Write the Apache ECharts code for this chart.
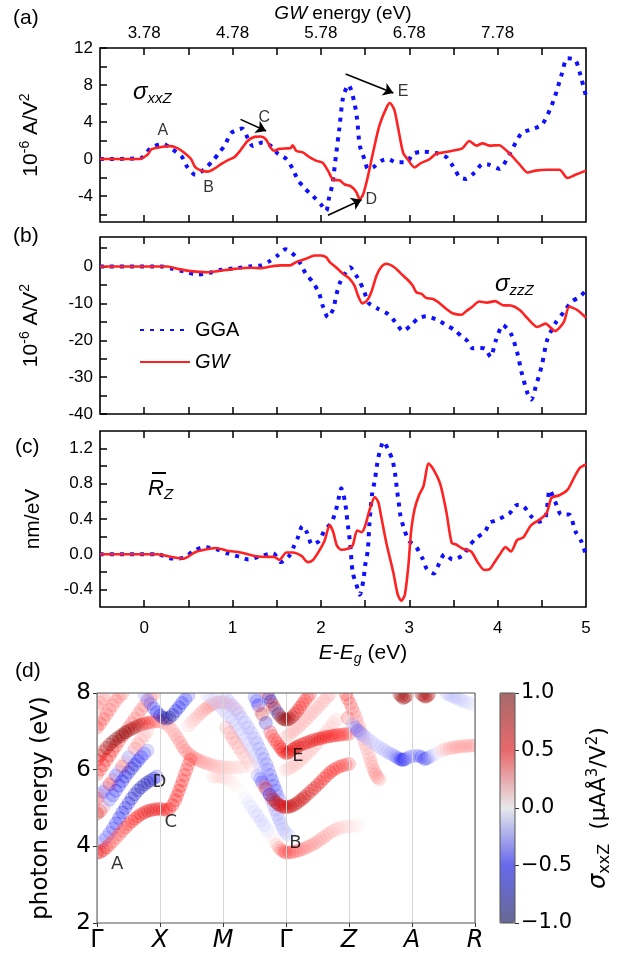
<!DOCTYPE html>
<html>
<head>
<meta charset="utf-8">
<script src="https://cdn.jsdelivr.net/npm/echarts@6/dist/echarts.min.js"></script>
<style>
html,body{margin:0;padding:0;background:#fff;}
#chart{width:636px;height:954px;}
</style>
</head>
<body>
<div id="chart"></div>
<script>
// ---------- shared energy axis, E - Eg (eV) ----------
const energyMin = -0.5, energyMax = 5;
const energyLabelTicks = [0, 1, 2, 3, 4, 5];
const energyMinorTicks = [0, 0.5, 1, 1.5, 2, 2.5, 3, 3.5, 4, 4.5];
const gwEnergyTickPos = [0, 1, 2, 3, 4];
const gwEnergyTickLabels = ['3.78', '4.78', '5.78', '6.78', '7.78'];

// ---------- (a) sigma_xxZ (1e-6 A/V^2) ----------
const sigmaXXZRange = [-6.8, 12];
const sigmaXXZLabels = [-4, 0, 4, 8, 12];
const sigmaXXZTicks = [-6, -4, -2, 0, 2, 4, 6, 8, 10, 12];
const ggaXXZ = [[-0.5,0],[-0.04,0.1],[0.075,1.2],[0.21,1.65],[0.32,1.05],[0.43,0.2],[0.49,-0.9],[0.58,-1.7],[0.68,-1.1],[0.77,-0.25],[0.85,0.7],[0.92,1.6],[0.98,2.8],[1.11,3.3],[1.17,2.3],[1.23,1.4],[1.34,1.8],[1.43,1.45],[1.51,0.6],[1.61,0],[1.68,-1.05],[1.74,-2.25],[1.82,-3.2],[1.91,-4.0],[2.0,-4.9],[2.06,-5.6],[2.09,-4.3],[2.13,-2.7],[2.17,0.35],[2.21,3.4],[2.25,6.6],[2.31,8.0],[2.34,7.5],[2.38,6.05],[2.41,4.3],[2.44,1.45],[2.5,-0.2],[2.53,-1.05],[2.59,-0.9],[2.68,-0.2],[2.76,0],[2.85,-0.35],[2.97,-0.35],[3.04,0.55],[3.15,0.8],[3.3,0.65],[3.42,0.2],[3.49,-0.7],[3.57,-1.95],[3.64,-2.15],[3.74,-1.45],[3.83,-0.55],[3.9,-0.6],[4.02,-1.05],[4.13,0.45],[4.27,2.8],[4.38,3.2],[4.5,3.7],[4.59,5.3],[4.65,6.8],[4.72,9.0],[4.79,10.9],[4.88,10.7],[4.95,8.6],[5.0,6.8]];
const gwXXZ = [[-0.5,0],[-0.2,0],[-0.06,0],[0.04,0.5],[0.08,1.05],[0.19,1.3],[0.3,1.4],[0.38,1.15],[0.45,0.7],[0.53,0],[0.58,-0.9],[0.66,-1.3],[0.72,-1.36],[0.79,-1.07],[0.87,-0.55],[0.96,-0.07],[1.02,0.2],[1.09,0.95],[1.17,1.95],[1.25,2.4],[1.32,2.43],[1.38,2.1],[1.43,1.25],[1.47,0.9],[1.53,1.1],[1.62,1.15],[1.66,1.2],[1.68,1.5],[1.72,0.9],[1.8,0.7],[1.87,0.2],[1.95,-0.2],[2.02,-0.4],[2.08,-1.25],[2.14,-2.25],[2.21,-2.3],[2.27,-2.75],[2.34,-2.95],[2.4,-3.55],[2.44,-4.35],[2.48,-3.75],[2.53,-1.95],[2.59,0.7],[2.66,3.55],[2.74,5.5],[2.78,6.05],[2.83,5.35],[2.87,3.55],[2.93,0.7],[2.98,0],[3.06,-0.9],[3.13,-0.45],[3.23,0],[3.3,0.55],[3.38,0.7],[3.49,0.9],[3.6,1.15],[3.68,1.95],[3.76,1.45],[3.83,1.7],[3.91,1.45],[4.02,1.5],[4.09,1.0],[4.15,0.45],[4.25,-0.6],[4.34,-1.45],[4.43,-1.25],[4.56,-1.15],[4.7,-1.15],[4.79,-2.05],[4.88,-1.7],[5.0,-1.25]];
const peakNames = ['A', 'B', 'C', 'D', 'E'];
const peakLabelAt = [[0.21,3.07],[0.73,-3.1],[1.36,4.47],[2.57,-4.4],[2.93,7.33]];
const peakArrows = [
  [[1.09,4.29],[1.38,3.04]],
  [[2.08,-6.07],[2.46,-4.39]],
  [[2.28,9.19],[2.82,7.15]]
];

// ---------- (b) sigma_zzZ (1e-6 A/V^2) ----------
const sigmaZZZRange = [-40, 8];
const sigmaZZZLabels = [-40, -30, -20, -10, 0];
const sigmaZZZTicks = [-40, -35, -30, -25, -20, -15, -10, -5, 0, 5];
const ggaZZZ = [[-0.5,0],[0.19,0],[0.32,-0.65],[0.45,-1.35],[0.6,-2.2],[0.74,-1.7],[0.87,-0.9],[1.04,-0.45],[1.19,0],[1.32,0.3],[1.42,1.45],[1.51,3.0],[1.6,4.7],[1.71,2.8],[1.78,0.3],[1.83,-2.0],[1.91,-4.3],[1.98,-7.3],[2.02,-10.6],[2.08,-13.8],[2.14,-11.5],[2.17,-8.2],[2.21,-4.7],[2.27,-2.0],[2.33,-0.2],[2.4,-2.45],[2.44,-4.1],[2.49,-6.8],[2.54,-9.9],[2.64,-11.4],[2.76,-12.9],[2.84,-15],[2.93,-17.5],[3.02,-15.9],[3.1,-14.1],[3.19,-13.5],[3.3,-14.3],[3.4,-15.6],[3.51,-17.2],[3.61,-19.3],[3.65,-20],[3.72,-22.2],[3.8,-22.1],[3.86,-22.3],[3.92,-24.5],[3.98,-20],[4.06,-15.9],[4.15,-18.2],[4.22,-23.2],[4.27,-28.6],[4.34,-34.5],[4.38,-36.1],[4.43,-32.7],[4.5,-26.8],[4.56,-20],[4.65,-15.5],[4.75,-12.3],[4.84,-9.5],[4.93,-8.2],[5.0,-6.4]];
const gwZZZ = [[-0.5,0],[0.26,0],[0.38,-0.65],[0.53,-1.25],[0.72,-1.55],[0.83,-1.25],[1.02,-0.65],[1.21,-0.35],[1.32,-0.45],[1.43,0],[1.55,0.3],[1.65,0.3],[1.72,1.2],[1.83,2.1],[1.93,3.0],[2.0,3.0],[2.06,2.5],[2.1,1.2],[2.17,-0.2],[2.25,-2.0],[2.32,-3.2],[2.38,-5.2],[2.42,-7.9],[2.47,-10.0],[2.52,-9.3],[2.57,-7.0],[2.63,-2.45],[2.68,-0.2],[2.74,0.75],[2.83,-0.2],[2.91,-2.0],[2.99,-3.8],[3.04,-5.2],[3.08,-7.0],[3.14,-7.45],[3.19,-8.5],[3.27,-8.8],[3.34,-9.9],[3.42,-11.5],[3.49,-12.7],[3.59,-13.1],[3.64,-12.2],[3.72,-10.8],[3.79,-9.5],[3.88,-9.8],[3.97,-9.4],[4.06,-10.5],[4.15,-10.6],[4.25,-11.8],[4.34,-14.1],[4.45,-16.4],[4.54,-15.5],[4.65,-17.5],[4.75,-15],[4.81,-10.9],[4.9,-11.8],[5.0,-13.9]];

// ---------- (c) R_Z (nm/eV) ----------
const shiftRange = [-0.6, 1.4];
const shiftLabels = [-0.4, 0, 0.4, 0.8, 1.2];
const shiftTicks = [-0.4, -0.2, 0, 0.2, 0.4, 0.6, 0.8, 1.0, 1.2];
const ggaRZ = [[-0.5,0],[0.15,0],[0.32,-0.05],[0.45,-0.04],[0.55,0.03],[0.67,0.08],[0.81,0.06],[0.94,0.01],[1.08,-0.03],[1.18,-0.06],[1.32,-0.02],[1.46,0.01],[1.55,-0.09],[1.64,-0.02],[1.69,0.08],[1.74,0.19],[1.79,0.32],[1.84,0.25],[1.9,0.11],[1.98,0.15],[2.04,0.27],[2.12,0.36],[2.17,0.5],[2.2,0.63],[2.23,0.75],[2.27,0.61],[2.29,0.46],[2.31,0.29],[2.33,0.13],[2.36,-0.21],[2.4,-0.34],[2.44,-0.46],[2.48,-0.3],[2.5,-0.13],[2.53,0.04],[2.55,0.36],[2.58,0.69],[2.61,0.84],[2.65,1.1],[2.71,1.28],[2.76,1.19],[2.81,1.07],[2.84,0.91],[2.86,0.74],[2.88,0.59],[2.9,0.44],[2.95,0.26],[3.0,0.15],[3.08,0.08],[3.15,-0.05],[3.2,-0.17],[3.28,-0.22],[3.34,-0.1],[3.4,0],[3.49,-0.06],[3.61,-0.01],[3.68,0.1],[3.77,0.19],[3.86,0.26],[3.91,0.36],[3.97,0.38],[4.13,0.46],[4.22,0.56],[4.29,0.55],[4.38,0.43],[4.47,0.37],[4.54,0.41],[4.59,0.73],[4.65,0.6],[4.72,0.45],[4.81,0.45],[4.88,0.26],[4.95,0.14],[5.0,-0.01]];
const gwRZ = [[-0.5,0],[0.15,0],[0.3,-0.03],[0.45,-0.05],[0.57,0.02],[0.68,0.05],[0.81,0.07],[0.94,0.04],[1.09,0.02],[1.25,-0.02],[1.4,-0.03],[1.47,-0.03],[1.53,-0.065],[1.61,0.02],[1.68,0.02],[1.78,-0.02],[1.85,-0.09],[1.91,-0.065],[1.97,0.02],[2.04,0.15],[2.1,0.33],[2.14,0.25],[2.18,0.1],[2.23,0.05],[2.31,0.065],[2.36,0.1],[2.41,0.27],[2.46,0.25],[2.5,0.32],[2.55,0.5],[2.61,0.65],[2.65,0.59],[2.68,0.44],[2.74,0.13],[2.82,-0.21],[2.87,-0.46],[2.91,-0.53],[2.95,-0.46],[2.99,-0.13],[3.02,0.25],[3.06,0.51],[3.11,0.67],[3.16,0.77],[3.22,1.03],[3.27,0.97],[3.35,0.8],[3.42,0.48],[3.48,0.13],[3.53,0.11],[3.61,0.06],[3.7,0.03],[3.78,-0.1],[3.85,-0.18],[3.91,-0.17],[3.96,-0.1],[4.02,-0.01],[4.09,0.08],[4.15,0.03],[4.22,0.16],[4.29,0.19],[4.38,0.33],[4.5,0.41],[4.56,0.48],[4.61,0.64],[4.7,0.67],[4.79,0.73],[4.86,0.86],[4.93,0.98],[5.0,1.02]];

// ---------- (d) band-resolved sigma_xxZ: [k, photon energy (eV), weight] ----------
const kPathLabels = ['Γ', 'X', 'M', 'Γ', 'Z', 'A', 'R'];
const bandA = [[0,3.83,.6],[.05,3.85,.6],[.1,3.9,.55],[.15,3.97,.5],[.2,4.05,.4],[.25,4.13,.35],[.3,4.22,.35],[.35,4.31,.38],[.4,4.4,.4],[.45,4.49,.42],[.5,4.57,.45],[.55,4.65,.48],[.6,4.72,.5],[.65,4.78,.52],[.7,4.84,.55],[.75,4.88,.58],[.8,4.92,.6],[.85,4.94,.6],[.9,4.96,.6],[.95,4.97,.58],[1.0,4.98,.55],[1.05,4.96,.55],[1.1,4.95,.55],[1.15,4.98,.52],[1.2,5.08,.5],[1.24,5.2,.5],[1.27,5.32,.5],[1.3,5.45,.5],[1.33,5.58,.5],[1.36,5.72,.48],[1.39,5.86,.45],[1.42,6.0,.45],[1.45,6.14,.42],[1.48,6.26,.4]];
const bandD = [[0,4.05,-.1],[.05,4.08,-.18],[.1,4.15,-.25],[.15,4.24,-.3],[.2,4.35,-.35],[.25,4.47,-.4],[.3,4.6,-.45],[.35,4.74,-.5],[.4,4.88,-.55],[.45,5.0,-.58],[.5,5.13,-.6],[.55,5.25,-.62],[.6,5.36,-.65],[.65,5.46,-.68],[.7,5.54,-.7],[.75,5.61,-.72],[.8,5.67,-.75],[.85,5.72,-.7],[.9,5.77,-.6],[.95,5.82,-.4]];
const bandGX3 = [[0,4.85,.75],[.05,4.92,.6],[.1,5.02,.3],[.15,5.12,-.1],[.2,5.22,-.3],[.25,5.33,-.4],[.3,5.45,-.45],[.35,5.58,-.5],[.4,5.7,-.55],[.45,5.82,-.58],[.5,5.93,-.6],[.55,6.03,-.6],[.6,6.13,-.6],[.65,6.23,-.55],[.7,6.33,-.5],[.75,6.42,-.4],[.8,6.5,-.3]];
const bandGX4 = [[0,5.25,.5],[.05,5.33,.3],[.1,5.42,-.4],[.15,5.52,-.2],[.2,5.62,.5],[.25,5.73,.3],[.3,5.85,-.4],[.35,5.96,-.2],[.4,6.08,.4],[.45,6.2,.2],[.5,6.32,-.3],[.55,6.44,-.1],[.6,6.55,.3],[.65,6.67,.25],[.7,6.78,.2],[.75,6.89,.18],[.8,7.0,.15]];
const bandGX5 = [[0,6.25,.5],[.05,6.37,.65],[.1,6.48,.75],[.15,6.57,.85],[.2,6.66,.9],[.25,6.73,.95],[.3,6.8,1.0],[.35,6.86,1.0],[.4,6.92,1.0],[.45,6.97,.98],[.5,7.02,.95],[.55,7.06,.9],[.6,7.1,.85],[.65,7.14,.8],[.7,7.17,.75],[.75,7.2,.65],[.8,7.22,.55],[.85,7.24,.45],[.9,7.25,.35],[.95,7.26,.3],[1.0,7.26,.25],[1.05,7.24,.22],[1.1,7.2,.2],[1.15,7.12,.2],[1.2,7.02,.2],[1.24,6.92,.22],[1.28,6.82,.25],[1.32,6.71,.28],[1.36,6.6,.3],[1.4,6.5,.3],[1.45,6.42,.3],[1.5,6.35,.3],[1.55,6.3,.3],[1.6,6.26,.28],[1.65,6.22,.25],[1.7,6.19,.22],[1.75,6.16,.2],[1.8,6.13,.19],[1.85,6.11,.18],[1.9,6.09,.16],[1.95,6.08,.15],[2.0,6.07,.13],[2.05,6.06,.12],[2.1,6.06,.11],[2.15,6.06,.1],[2.2,6.06,.09],[2.25,6.06,.08],[2.3,6.07,.07],[2.35,6.08,.06]];
const bandGX6 = [[0,5.88,.4],[.05,6.0,.45],[.1,6.12,.5],[.15,6.25,.5],[.2,6.37,.5],[.25,6.5,.48],[.3,6.62,.45],[.35,6.75,.42],[.4,6.87,.4],[.45,6.98,.38],[.5,7.1,.35],[.55,7.22,.32],[.6,7.33,.3],[.65,7.45,.3],[.7,7.56,.3],[.75,7.67,.28],[.8,7.78,.25],[.85,7.88,.25],[.9,7.97,.25]];
const bandGX7 = [[0,7.1,.45],[.05,7.2,.42],[.1,7.32,.4],[.15,7.44,.38],[.2,7.56,.35],[.25,7.68,.32],[.3,7.8,.3],[.35,7.9,.3],[.4,7.98,.3]];
const bandGX8 = [[0,7.65,.3],[.05,7.75,.28],[.1,7.85,.25],[.15,7.95,.2]];
const bandXtop = [[.75,7.95,-.2],[.8,7.83,-.28],[.85,7.72,-.35],[.9,7.6,-.42],[.95,7.5,-.5],[1.0,7.42,-.65],[1.05,7.36,-.78],[1.1,7.33,-.85],[1.15,7.36,-.8],[1.2,7.43,-.72],[1.25,7.53,-.62],[1.3,7.63,-.55],[1.35,7.74,-.5],[1.4,7.84,-.42],[1.45,7.93,-.35]];
const bandMtop = [[1.45,7.15,.1],[1.5,7.24,.12],[1.55,7.32,.15],[1.6,7.4,.18],[1.65,7.48,.2],[1.7,7.56,.22],[1.75,7.62,.25],[1.8,7.68,.25],[1.85,7.72,.25],[1.9,7.75,.25],[1.95,7.76,.25],[2.0,7.76,.22],[2.05,7.74,.2],[2.1,7.7,.18],[2.15,7.65,.15],[2.2,7.58,.12],[2.25,7.5,.1]];
const bandMG1 = [[1.75,7.95,-.08],[1.8,7.89,-.08],[1.85,7.82,-.09],[1.9,7.74,-.1],[1.95,7.66,-.1],[2.0,7.57,-.11],[2.05,7.48,-.12],[2.1,7.38,-.12],[2.15,7.28,-.13],[2.2,7.17,-.13],[2.25,7.05,-.13],[2.3,6.93,-.13],[2.35,6.8,-.13],[2.4,6.66,-.13],[2.45,6.52,-.13],[2.5,6.36,-.14],[2.55,6.2,-.15],[2.59,6.05,-.15],[2.62,5.92,-.16],[2.65,5.77,-.18],[2.68,5.62,-.2],[2.71,5.48,-.2],[2.74,5.35,-.2],[2.77,5.21,-.2],[2.8,5.08,-.2],[2.83,4.95,-.2],[2.86,4.82,-.2],[2.89,4.7,-.2],[2.92,4.58,-.18],[2.95,4.47,-.16],[2.98,4.38,-.14],[3.01,4.32,-.12],[3.05,4.3,-.1]];
const bandMG2 = [[2.0,7.95,-.1],[2.05,7.87,-.12],[2.1,7.78,-.13],[2.15,7.68,-.14],[2.2,7.58,-.15],[2.25,7.47,-.16],[2.3,7.35,-.17],[2.35,7.23,-.18],[2.4,7.1,-.2],[2.45,6.96,-.2],[2.5,6.82,-.2],[2.54,6.69,-.22],[2.58,6.55,-.24],[2.62,6.41,-.26],[2.65,6.28,-.28],[2.69,6.14,-.3],[2.72,6.0,-.32],[2.75,5.86,-.35],[2.78,5.72,-.4],[2.81,5.58,-.4],[2.84,5.45,-.38],[2.87,5.32,-.32],[2.9,5.2,-.25]];
const bandB = [[1.85,5.82,.1],[1.9,5.82,.1],[1.95,5.82,.1],[2.0,5.8,.1],[2.05,5.78,.08],[2.1,5.74,.06],[2.15,5.68,.05],[2.2,5.6,.03],[2.25,5.5,.02],[2.3,5.39,0],[2.35,5.27,-.04],[2.4,5.15,-.06],[2.45,5.03,-.08],[2.5,4.91,-.1],[2.55,4.8,-.12],[2.6,4.67,-.12],[2.65,4.55,-.12],[2.7,4.42,-.08],[2.75,4.3,-.04],[2.8,4.17,.05],[2.85,4.05,.15],[2.89,3.96,.25],[2.93,3.9,.32],[2.97,3.86,.38],[3.0,3.84,.4],[3.05,3.84,.4],[3.1,3.85,.38],[3.15,3.87,.35],[3.2,3.89,.32],[3.25,3.92,.3],[3.3,3.95,.28],[3.35,3.99,.26],[3.4,4.03,.25],[3.45,4.07,.24],[3.5,4.12,.23],[3.55,4.18,.22],[3.6,4.24,.21],[3.65,4.3,.2],[3.7,4.36,.18],[3.75,4.41,.16],[3.8,4.45,.14],[3.85,4.48,.12],[3.9,4.5,.1],[3.95,4.51,.09],[4.0,4.52,.08],[4.05,4.53,.06],[4.1,4.54,.04],[4.15,4.55,.03],[4.2,4.55,.02]];
const bandGZ1 = [[2.05,7.1,.2],[2.1,6.96,.22],[2.15,6.82,.25],[2.2,6.7,.22],[2.25,6.57,.2],[2.3,6.45,.18],[2.35,6.32,.15],[2.4,6.2,.12],[2.45,6.08,.1],[2.5,5.96,0],[2.55,5.85,-.2],[2.59,5.76,-.3],[2.62,5.67,-.4],[2.65,5.58,.3],[2.68,5.5,.7],[2.71,5.42,-.2],[2.74,5.35,-.5],[2.77,5.28,.4],[2.8,5.22,.85],[2.84,5.15,.8],[2.87,5.1,.7],[2.9,5.07,.68],[2.94,5.04,.65],[2.97,5.03,.65],[3.0,5.02,.65],[3.04,5.03,.68],[3.07,5.04,.7],[3.11,5.07,.72],[3.15,5.1,.75],[3.19,5.15,.72],[3.23,5.2,.7],[3.27,5.25,.7],[3.3,5.3,.7],[3.35,5.37,.68],[3.4,5.45,.65],[3.45,5.52,.62],[3.5,5.6,.6],[3.55,5.68,.58],[3.6,5.77,.55],[3.65,5.85,.52],[3.7,5.93,.5],[3.75,5.99,.48],[3.8,6.04,.45],[3.85,6.08,.42],[3.9,6.11,.4],[3.95,6.13,.38],[4.0,6.15,.35]];
const bandE = [[2.5,7.9,-.3],[2.53,7.79,-.4],[2.56,7.68,-.5],[2.59,7.56,.2],[2.62,7.45,.8],[2.65,7.33,.1],[2.68,7.22,-.6],[2.71,7.11,-.1],[2.75,6.98,.4],[2.78,6.88,.42],[2.82,6.78,.45],[2.86,6.69,.48],[2.9,6.6,.5],[2.93,6.53,.52],[2.96,6.47,.55],[3.0,6.43,.55],[3.03,6.44,.58],[3.06,6.47,.6],[3.1,6.52,.6],[3.13,6.56,.6],[3.17,6.59,.6],[3.2,6.62,.6],[3.25,6.66,.6],[3.3,6.69,.6],[3.35,6.72,.6],[3.4,6.75,.6],[3.45,6.78,.6],[3.5,6.8,.6],[3.55,6.82,.58],[3.6,6.84,.55],[3.65,6.86,.55],[3.7,6.87,.55],[3.75,6.89,.52],[3.8,6.9,.5],[3.85,6.91,.48],[3.9,6.92,.45],[3.95,6.93,.42],[4.0,6.93,.4]];
const bandGtop = [[2.7,7.98,.6],[2.73,7.88,-.5],[2.76,7.78,-.8],[2.79,7.69,.5],[2.82,7.6,.95],[2.85,7.52,-.3],[2.88,7.45,-.9],[2.91,7.39,.4],[2.94,7.34,1.0],[2.97,7.31,.98],[3.0,7.3,.95],[3.03,7.31,.9],[3.06,7.33,.85],[3.1,7.38,.78],[3.14,7.45,.7],[3.18,7.53,.62],[3.22,7.62,.55],[3.26,7.71,.5],[3.3,7.8,.45],[3.34,7.89,.42],[3.38,7.97,.4]];
const bandGZ2 = [[3.0,6.85,.15],[3.05,6.91,.17],[3.1,6.98,.18],[3.15,7.05,.18],[3.2,7.12,.18],[3.25,7.2,.18],[3.3,7.28,.18],[3.35,7.36,.18],[3.4,7.45,.18],[3.45,7.53,.18],[3.5,7.62,.18],[3.55,7.71,.18],[3.6,7.8,.18],[3.65,7.89,.18],[3.7,7.97,.18]];
const bandGZ3 = [[3.0,6.0,.12],[3.05,6.03,.13],[3.1,6.08,.15],[3.15,6.14,.15],[3.2,6.2,.15],[3.25,6.27,.15],[3.3,6.35,.15],[3.35,6.43,.15],[3.4,6.52,.15],[3.45,6.61,.15],[3.5,6.7,.15],[3.55,6.8,.15],[3.6,6.9,.15],[3.65,7.0,.13],[3.7,7.1,.12],[3.75,7.2,.12],[3.8,7.3,.12]];
const bandZ1 = [[3.95,7.97,.45],[3.98,7.85,.42],[4.02,7.72,.38],[4.05,7.6,.32],[4.08,7.48,.28],[4.11,7.36,.25],[4.13,7.25,.22],[4.16,7.13,.2],[4.18,7.02,.2],[4.21,6.9,.18],[4.23,6.78,.18],[4.26,6.66,.18],[4.28,6.55,.18],[4.31,6.42,.18],[4.33,6.3,.18],[4.35,6.19,.2],[4.37,6.08,.22],[4.4,5.97,.25],[4.42,5.88,.28],[4.45,5.8,.25],[4.48,5.75,.22]];
const bandZA = [[3.98,7.35,.4],[4.02,7.26,.05],[4.06,7.18,-.2],[4.1,7.1,-.3],[4.14,7.02,-.35],[4.18,6.96,-.28],[4.22,6.9,-.2],[4.26,6.85,-.15],[4.3,6.8,-.12],[4.35,6.74,-.12],[4.4,6.68,-.12],[4.45,6.62,-.12],[4.5,6.57,-.13],[4.55,6.52,-.15],[4.6,6.47,-.17],[4.65,6.42,-.2],[4.7,6.38,-.22],[4.74,6.34,-.28],[4.78,6.3,-.35],[4.82,6.27,-.5],[4.85,6.25,-.65],[4.88,6.27,-.5],[4.92,6.3,-.3],[4.96,6.33,-.25],[5.0,6.35,-.22],[5.05,6.36,-.24],[5.1,6.36,-.28],[5.15,6.33,-.42],[5.2,6.28,-.6],[5.24,6.3,-.38],[5.28,6.33,-.2],[5.32,6.37,-.12],[5.36,6.4,-.08],[5.4,6.43,-.04],[5.44,6.45,0]];
const bandAR = [[5.45,6.5,.08],[5.5,6.52,.12],[5.55,6.54,.15],[5.6,6.56,.18],[5.65,6.58,.2],[5.7,6.59,.22],[5.75,6.6,.22],[5.8,6.61,.22],[5.85,6.62,.22],[5.9,6.62,.22],[5.95,6.63,.22],[6.0,6.63,.22]];
const bandAtop = [[4.8,7.97,.8],[4.83,7.91,.85],[4.86,7.87,.95],[4.89,7.89,.9],[4.92,7.93,.8],[5.15,7.97,.75],[5.18,7.93,.85],[5.21,7.9,.9],[5.24,7.92,.85],[5.27,7.96,.75]];
const bandRtop = [[5.55,7.99,-.15],[5.6,7.95,-.15],[5.65,7.91,-.15],[5.7,7.87,-.15],[5.75,7.83,-.13],[5.8,7.8,-.12],[5.85,7.77,-.1],[5.9,7.74,-.08],[5.95,7.72,-.06],[6.0,7.7,-.04]];
const transitionNames = ['A', 'C', 'D', 'B', 'E'];
const transitionLabelAt = [[0.32,3.52],[1.17,4.63],[0.99,5.67],[3.15,4.08],[3.19,6.36]];
const colorbarRange = [-1, 1];

const bandPaths = [bandGX8, bandGX7, bandGX6, bandGX5, bandGX4, bandGX3, bandD, bandA, bandXtop,
  bandMtop, bandMG2, bandMG1, bandB, bandGZ3, bandGZ2, bandGZ1, bandE, bandGtop,
  bandZ1, bandZA, bandAR, bandAtop, bandRtop];

// ---------- styling ----------
const FONT = 'Liberation Sans';
const MPL = 'DejaVu Sans';
const BLUE = '#1010ff';
const RED = '#ff2222';
const BLACK = '#000';
const FRAME_D = '#555';
// diverging blue-white-red map; the colour bar is drawn half transparent,
// the stacked circles a little lighter so that overlaps build up gradually
const cmapStops = [[0, 0, 77], [0, 0, 255], [255, 255, 255], [255, 0, 0], [128, 0, 0]];
const barAlpha = 0.5;
const dotAlpha = 0.3;

function rgba(c, a) { return 'rgba(' + c.join(',') + ',' + a + ')'; }

function cmapColor(v, alpha) {
  const t = (Math.max(-1, Math.min(1, v)) + 1) / 2 * (cmapStops.length - 1);
  const i = Math.min(cmapStops.length - 2, Math.floor(t));
  const f = t - i;
  const c = cmapStops[i].map((a, j) => Math.round(a + (cmapStops[i + 1][j] - a) * f));
  return rgba(c, alpha);
}

const gridBoxes = [
  { left: 100, top: 48, width: 486, height: 174 },
  { left: 100, top: 237, width: 486, height: 177 },
  { left: 100, top: 431, width: 486, height: 176 },
  { left: 97, top: 693, width: 378, height: 230 },
  { left: 500, top: 693, width: 15, height: 230 }
];
// the frames of panel (d) and of the colour bar sit above the circles, masks and bar
const grids = gridBoxes.map((g, i) => Object.assign({
  show: true,
  z: i < 3 ? 2 : 12,
  borderColor: i < 3 ? BLACK : FRAME_D,
  borderWidth: i < 3 ? 1.6 : 1,
  backgroundColor: 'transparent',
  containLabel: false
}, g));

function tickStyle() { return { color: BLACK, width: 1.5 }; }

function energyAxis(gridIndex, position, opts) {
  return Object.assign({
    type: 'value', gridIndex, position, min: energyMin, max: energyMax,
    axisLine: { show: false, onZero: false },
    splitLine: { show: false },
    axisTick: { show: true, inside: true, length: 7, customValues: energyMinorTicks, lineStyle: tickStyle() },
    axisLabel: { show: false }
  }, opts || {});
}

function valueAxis(gridIndex, range, labels, ticks, fmt, name) {
  return {
    type: 'value', gridIndex, min: range[0], max: range[1],
    axisLine: { show: false, onZero: false },
    splitLine: { show: false },
    axisTick: { show: true, inside: true, length: 7, customValues: ticks, lineStyle: tickStyle() },
    axisLabel: { customValues: labels, formatter: fmt, color: BLACK, fontSize: 17, fontFamily: FONT, margin: 7 },
    name, nameLocation: 'middle', nameGap: 56,
    nameTextStyle: {
      color: BLACK, fontSize: 21, fontFamily: FONT,
      rich: { sup: { fontSize: 14, fontFamily: FONT, color: BLACK, padding: [0, 0, 12, 0] } }
    }
  };
}

const xAxes = [
  energyAxis(0, 'bottom'),
  energyAxis(0, 'top', {
    axisLabel: {
      show: true, customValues: gwEnergyTickPos, color: BLACK, fontSize: 17, fontFamily: FONT, margin: 6,
      formatter: v => gwEnergyTickLabels[gwEnergyTickPos.indexOf(Math.round(v))]
    },
    name: '{i|GW} energy (eV)', nameLocation: 'middle', nameGap: 25,
    nameTextStyle: { color: BLACK, fontSize: 19, fontFamily: FONT,
      rich: { i: { fontStyle: 'italic', fontSize: 19, fontFamily: FONT, color: BLACK } } }
  }),
  energyAxis(1, 'bottom'),
  energyAxis(1, 'top'),
  energyAxis(2, 'bottom', {
    axisLabel: { show: true, customValues: energyLabelTicks, color: BLACK, fontSize: 17, fontFamily: FONT, margin: 13 },
    name: '{i|E}-{i|E}{sub|g} (eV)', nameLocation: 'middle', nameGap: 33,
    nameTextStyle: { color: BLACK, fontSize: 21, fontFamily: FONT, padding: [0, 0, 0, 40],
      rich: {
        i: { fontStyle: 'italic', fontSize: 21, fontFamily: FONT, color: BLACK },
        sub: { fontStyle: 'italic', fontSize: 14, fontFamily: FONT, color: BLACK, padding: [12, 0, 0, 0] }
      } }
  }),
  energyAxis(2, 'top'),
  {
    type: 'value', gridIndex: 3, min: 0, max: 6, interval: 1, z: 10,
    axisLine: { show: false, onZero: false },
    axisTick: { show: true, length: 4, lineStyle: { color: '#333', width: 1 } },
    splitLine: { show: true, lineStyle: { color: '#d4d4d4', width: 1 } },
    axisLabel: {
      color: BLACK, margin: 6, fontSize: 24, fontFamily: MPL,
      formatter: v => {
        const s = kPathLabels[Math.round(v)];
        return s === 'Γ' ? '{n|' + s + '}' : '{i|' + s + '}';
      },
      rich: {
        n: { fontSize: 24, fontFamily: MPL, color: BLACK },
        i: { fontSize: 24, fontFamily: MPL, fontStyle: 'italic', color: BLACK }
      }
    }
  },
  { type: 'value', gridIndex: 4, min: 0, max: 1, show: false }
];

const yAxes = [
  valueAxis(0, sigmaXXZRange, sigmaXXZLabels, sigmaXXZTicks, v => String(v), '10{sup|-6} A/V{sup|2}'),
  valueAxis(1, sigmaZZZRange, sigmaZZZLabels, sigmaZZZTicks, v => String(v), '10{sup|-6} A/V{sup|2}'),
  valueAxis(2, shiftRange, shiftLabels, shiftTicks, v => v.toFixed(1), 'nm/eV'),
  {
    type: 'value', gridIndex: 3, min: 2, max: 8, interval: 2, z: 10,
    axisLine: { show: false, onZero: false },
    splitLine: { show: false },
    axisTick: { show: true, length: 4, lineStyle: { color: '#333', width: 1 } },
    axisLabel: { color: BLACK, fontSize: 23, fontFamily: MPL, margin: 6, formatter: v => String(v) },
    name: 'photon energy (eV)', nameLocation: 'middle', nameGap: 44,
    nameTextStyle: { color: BLACK, fontSize: 23, fontFamily: MPL }
  },
  {
    type: 'value', gridIndex: 4, position: 'right', min: colorbarRange[0], max: colorbarRange[1], interval: 0.5, z: 10,
    axisLine: { show: false, onZero: false },
    splitLine: { show: false },
    axisTick: { show: true, length: 4, lineStyle: { color: '#333', width: 1 } },
    axisLabel: { color: BLACK, fontSize: 21, fontFamily: MPL, margin: 6,
      formatter: v => v.toFixed(1).replace('-', '\u2212') },
    name: '{s|σ}{sub|xxZ}  (μAÅ{sup|3}/V{sup|2})', nameLocation: 'middle', nameGap: 70, nameRotate: 90,
    nameTextStyle: { color: BLACK, fontSize: 22, fontFamily: MPL,
      rich: {
        s: { fontSize: 24, fontFamily: MPL, fontStyle: 'italic', color: BLACK },
        sub: { fontSize: 16, fontFamily: MPL, color: BLACK, padding: [12, 0, 0, 0] },
        sup: { fontSize: 15, fontFamily: MPL, color: BLACK, padding: [0, 0, 12, 0] }
      } }
  }
];

function lineSeries(name, data, axisIndex) {
  const gga = name === 'GGA';
  return {
    name, type: 'line', data, xAxisIndex: axisIndex * 2, yAxisIndex: axisIndex,
    symbol: 'none', smooth: 0.25, clip: true, z: gga ? 2 : 3,
    lineStyle: gga
      ? { color: BLUE, width: 4, type: [4, 6], cap: 'butt' }
      : { color: RED, width: 2.6, type: 'solid' },
    itemStyle: { color: gga ? BLUE : RED }
  };
}

// every circle gets a rim in its own colour, so overlapping circles read as a chain
const bandPoints = [].concat(...bandPaths).map(p => ({
  value: p,
  itemStyle: { borderColor: cmapColor(p[2], dotAlpha), borderWidth: 0.8 }
}));

const series = [
  lineSeries('GGA', ggaXXZ, 0),
  lineSeries('GW', gwXXZ, 0),
  lineSeries('GGA', ggaZZZ, 1),
  lineSeries('GW', gwZZZ, 1),
  lineSeries('GGA', ggaRZ, 2),
  lineSeries('GW', gwRZ, 2),
  {
    name: 'peaks', type: 'scatter', xAxisIndex: 0, yAxisIndex: 0, symbolSize: 1,
    itemStyle: { color: 'rgba(0,0,0,0)' }, silent: true, z: 5,
    data: peakNames.map((n, i) => ({ name: n, value: peakLabelAt[i] })),
    label: { show: true, position: 'inside', formatter: p => p.name, color: BLACK, fontSize: 16, fontFamily: FONT },
    markLine: {
      silent: true, symbol: ['none', 'arrow'], symbolSize: 10, animation: false,
      lineStyle: { color: BLACK, width: 1.6, type: 'solid' },
      itemStyle: { color: BLACK },
      label: { show: false },
      data: peakArrows.map(a => [{ coord: a[0] }, { coord: a[1] }])
    }
  },
  {
    name: 'bands', type: 'scatter', xAxisIndex: 6, yAxisIndex: 3, symbolSize: 13, clip: true,
    data: bandPoints, silent: true, z: 2
  },
  {
    name: 'transitions', type: 'scatter', xAxisIndex: 6, yAxisIndex: 3, symbolSize: 1,
    itemStyle: { color: 'rgba(0,0,0,0)' }, silent: true, z: 6,
    data: transitionNames.map((n, i) => ({ name: n, value: transitionLabelAt[i] })),
    label: { show: true, position: 'inside', formatter: p => p.name, color: BLACK, fontSize: 18, fontFamily: MPL }
  }
];

// white masks trimming the circles that spill over the edges of panel (d)
const bandBox = gridBoxes[3];
const bandMasks = [
  { x: bandBox.left - 8, y: bandBox.top - 12, width: bandBox.width + 16, height: 12 },
  { x: bandBox.left - 8, y: bandBox.top, width: 8, height: bandBox.height },
  { x: bandBox.left + bandBox.width, y: bandBox.top - 12, width: 18, height: bandBox.height + 12 }
].map(r => ({ type: 'rect', z: 5, silent: true, shape: r, style: { fill: '#fff' } }));

const chart = echarts.init(document.getElementById('chart'), null, { renderer: 'canvas' });
chart.setOption({
  animation: false,
  backgroundColor: '#fff',
  textStyle: { fontFamily: FONT },
  grid: grids,
  xAxis: xAxes,
  yAxis: yAxes,
  legend: {
    data: ['GGA', 'GW'], orient: 'vertical', left: 134, top: 315,
    itemWidth: 50, itemHeight: 14, itemGap: 12, selectedMode: false,
    itemStyle: { opacity: 0 },
    formatter: n => n === 'GW' ? '{i|GW}' : n,
    textStyle: { color: BLACK, fontSize: 20, fontFamily: FONT,
      rich: { i: { fontStyle: 'italic', fontSize: 20, fontFamily: FONT, color: BLACK } } }
  },
  visualMap: {
    type: 'continuous', seriesIndex: 7, dimension: 2,
    min: colorbarRange[0], max: colorbarRange[1], calculable: false,
    orient: 'vertical', left: 500, top: 693, itemWidth: 15, itemHeight: 230,
    padding: 0, text: null, z: 4,
    inRange: { color: cmapStops.map(c => rgba(c, dotAlpha)) },
    controller: { inRange: { color: cmapStops.map(c => rgba(c, barAlpha)) } }
  },
  series,
  graphic: bandMasks.concat([
    { type: 'text', left: 13, top: 8, style: { text: '(a)', font: '21px "Liberation Sans"', fill: BLACK } },
    { type: 'text', left: 13, top: 226, style: { text: '(b)', font: '21px "Liberation Sans"', fill: BLACK } },
    { type: 'text', left: 15, top: 437, style: { text: '(c)', font: '21px "Liberation Sans"', fill: BLACK } },
    { type: 'text', left: 15, top: 661, style: { text: '(d)', font: '21px "Liberation Sans"', fill: BLACK } },
    { type: 'text', left: 133, top: 80, style: {
        text: '{s|σ}{sub|xxZ}', fill: BLACK,
        rich: { s: { fontSize: 24, fontStyle: 'italic', fontFamily: FONT }, sub: { fontSize: 15, fontStyle: 'italic', fontFamily: FONT, padding: [13, 0, 0, 0] } } } },
    { type: 'text', left: 495, top: 272, style: {
        text: '{s|σ}{sub|zzZ}', fill: BLACK,
        rich: { s: { fontSize: 24, fontStyle: 'italic', fontFamily: FONT }, sub: { fontSize: 15, fontStyle: 'italic', fontFamily: FONT, padding: [13, 0, 0, 0] } } } },
    { type: 'text', left: 148, top: 478, style: {
        text: '{s|R}{sub|Z}', fill: BLACK,
        rich: { s: { fontSize: 22, fontStyle: 'italic', fontFamily: FONT }, sub: { fontSize: 15, fontStyle: 'italic', fontFamily: FONT, padding: [11, 0, 0, 0] } } } },
    { type: 'line', shape: { x1: 152, y1: 473, x2: 166, y2: 473 }, style: { stroke: BLACK, lineWidth: 2 } }
  ])
});
</script>
</body>
</html>
